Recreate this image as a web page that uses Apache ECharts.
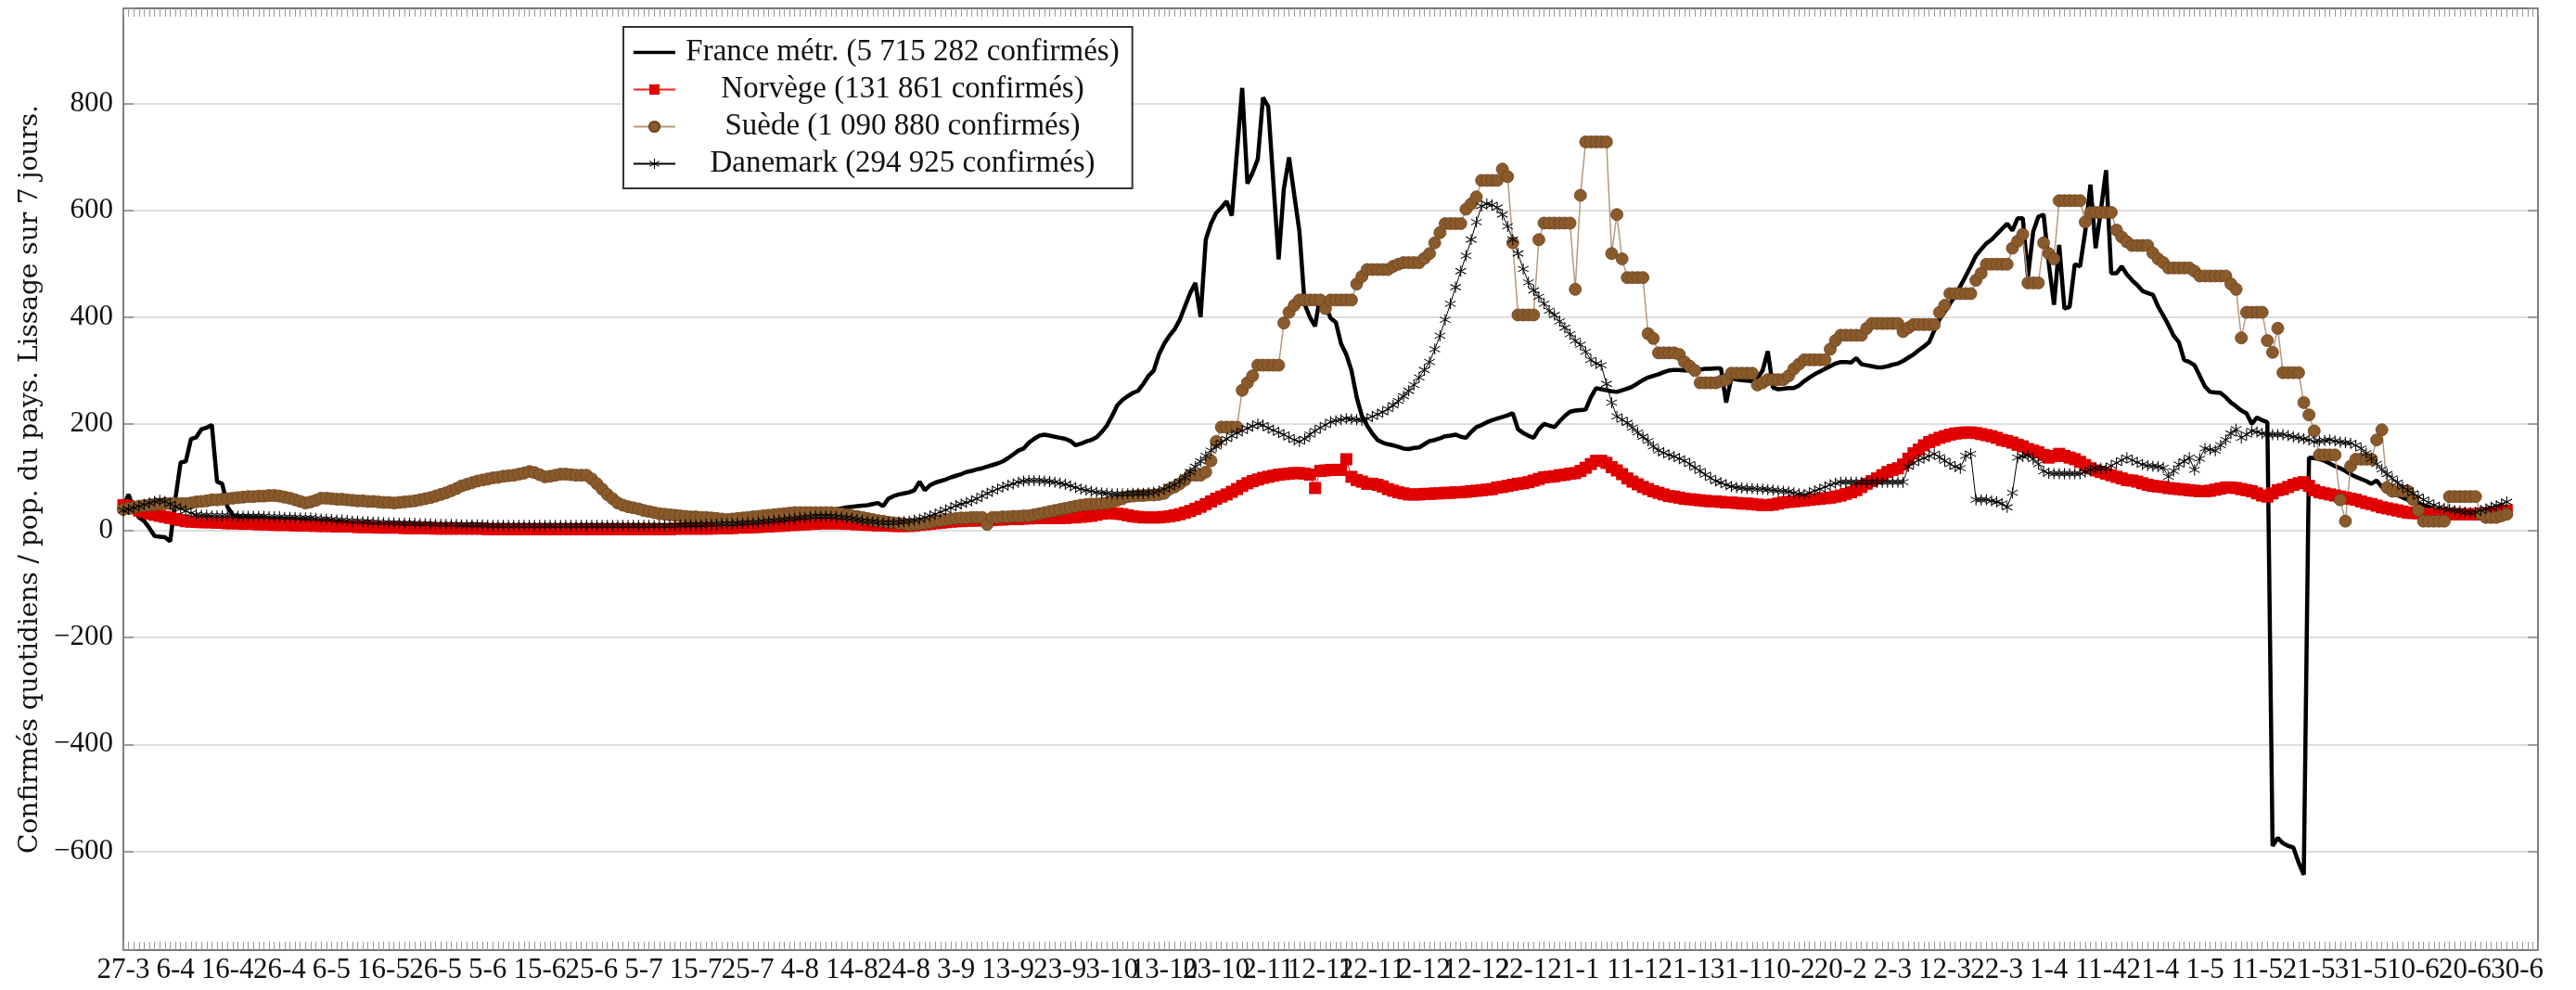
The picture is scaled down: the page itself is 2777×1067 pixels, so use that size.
<!DOCTYPE html>
<html>
<head>
<meta charset="utf-8">
<script src="https://cdn.jsdelivr.net/npm/echarts@6/dist/echarts.min.js"></script>
<style>
html,body{margin:0;padding:0;background:#fff;}
#chart{width:2777px;height:1067px;}
</style>
</head>
<body>
<div id="chart"></div>
<script>
// Axis: one category per day from 27-3-2020
const startDay = {y: 2020, m: 2, d: 27};
const nDays = 465;
const labelEvery = 10;

// Series values (per 100 000 inhabitants, 7-day smoothing), one value per day from 27-3-2020
const france = [
45,68,40,25,18,5,-10,-11,-12,-20,
60,128,130,172,175,190,193,198,92,88,
45,30,26,25,25,24,24,23,22,22,
21,21,20,20,19,19,18,18,17,17,
16,15,14,14,13,12,12,11,11,10,
10,10,9,9,9,8,8,8,8,13,
8,7,7,7,7,7,7,14,7,6,
6,6,6,6,6,6,6,6,6,6,
6,6,6,6,6,6,6,6,6,6,
6,6,6,6,7,7,7,7,7,7,
7,7,7,7,7,7,7,7,8,8,
8,8,9,9,10,10,11,11,12,13,
14,15,16,17,18,20,21,22,23,25,
26,28,30,32,34,36,38,40,42,44,
45,46,47,48,50,52,46,60,65,68,
70,72,76,92,76,85,90,93,96,100,
103,106,110,112,115,117,120,123,126,130,
136,143,150,154,165,172,178,180,178,176,
174,172,168,160,163,167,170,175,185,197,
215,235,245,252,258,262,275,290,300,330,
350,365,377,395,420,445,464,400,545,575,
595,605,617,590,710,829,650,670,696,811,
794,650,508,640,699,629,560,424,400,383,
441,420,398,390,350,330,300,250,215,197,
182,170,165,162,160,157,154,153,155,156,
162,168,170,173,177,178,180,176,174,185,
194,198,203,207,210,213,216,220,190,183,
178,174,190,200,197,194,205,215,223,225,
226,227,250,267,265,263,261,260,263,266,
270,276,282,287,290,293,297,300,301,301,
300,300,301,302,303,303,304,304,240,286,
283,282,281,280,285,300,336,268,265,266,
267,267,272,280,287,293,298,303,308,313,
316,316,315,323,312,310,308,306,306,308,
311,313,318,324,330,338,345,353,375,396,
410,425,440,458,476,495,515,527,538,545,
555,565,575,562,585,585,476,560,588,592,
500,423,535,416,419,499,495,560,648,529,
600,675,482,482,495,480,469,460,449,445,
442,420,403,385,365,353,320,316,310,290,
270,260,259,258,250,240,233,225,220,200,
212,207,203,-590,-575,-585,-590,-593,-621,-644,
137,136,134,131,126,121,117,112,106,101,
97,93,88,94,82,76,72,67,62,58,
54,51,48,45,41,38,35,32,28,26,
25,24,23,24,25,28,31,35,38
];

const norvege = [
48,46,42,38,35,32,30,28,26,24,
22,20,18,17,17,16,16,16,15,15,
14,14,14,13,13,13,12,12,12,11,
11,11,11,10,10,10,10,9,9,9,
9,8,8,8,8,7,7,7,7,6,
6,6,6,6,5,5,5,5,5,5,
4,4,4,4,4,4,4,4,4,4,
3,3,3,3,3,3,3,3,3,3,
3,3,3,3,3,3,3,3,3,3,
3,3,3,3,3,3,3,3,3,3,
3,3,3,3,3,3,4,4,4,4,
4,4,4,4,5,5,5,5,6,6,
6,7,7,8,8,9,9,10,11,11,
12,12,13,13,14,14,14,14,14,13,
13,12,12,11,11,10,10,10,9,9,
9,9,10,11,12,13,14,15,16,17,
18,18,19,19,19,20,20,20,21,21,
22,22,22,23,23,24,24,24,24,24,
24,24,25,25,26,27,28,30,32,33,
33,32,31,29,27,26,25,25,25,25,
26,27,29,31,34,37,41,45,50,55,
60,64,68,73,78,84,89,93,96,99,
101,103,105,106,107,108,108,107,105,80,
112,113,114,114,114,134,101,95,92,88,
88,86,83,78,75,72,70,68,68,68,
69,69,70,70,71,71,72,72,73,74,
75,76,77,78,81,82,84,86,88,89,
91,94,97,100,101,102,104,105,107,108,
112,118,125,131,131,127,119,113,106,98,
92,87,82,78,74,71,68,65,64,62,
60,59,58,57,56,55,55,54,53,53,
52,51,51,50,49,48,48,49,51,53,
54,55,56,57,58,59,60,61,62,64,
66,69,72,76,82,88,93,98,104,110,
114,117,124,135,145,152,160,166,170,174,
177,180,182,183,184,184,183,181,179,177,
174,170,168,165,161,158,153,150,147,142,
137,140,144,140,137,134,129,123,117,113,
110,107,104,101,98,95,94,92,89,86,
84,83,82,80,79,78,77,76,75,74,
74,75,77,79,81,81,80,78,76,74,
70,66,64,70,76,78,82,86,89,91,
84,76,72,70,68,66,64,62,60,58,
55,52,50,47,44,42,40,38,36,34,
33,33,32,32,32,32,32,31,31,31,
31,31,31,32,33,34,35,37,38
];

const suede = [
40,42,44,46,47,48,49,50,51,51,
51,51,51,52,54,55,56,58,58,59,
60,61,62,63,64,64,65,65,66,66,
65,63,61,58,55,52,54,57,61,61,
60,59,59,58,57,56,56,55,55,54,
53,53,52,53,54,55,56,58,60,62,
65,68,71,75,79,84,87,90,93,95,
97,99,100,102,103,104,106,108,111,109,
105,101,102,104,106,106,105,104,104,104,
97,88,78,68,60,52,48,45,43,41,
38,36,34,32,31,30,29,28,27,26,
26,25,25,24,23,22,21,22,23,24,
25,26,27,28,29,30,31,32,33,34,
34,34,34,34,34,34,34,33,32,30,
28,27,25,23,21,19,18,16,15,14,
13,11,12,13,14,16,18,19,21,22,
23,24,24,25,25,25,12,25,25,26,
26,27,27,28,28,30,32,34,36,38,
40,42,44,46,48,49,50,50,51,52,
54,57,60,64,65,66,66,67,67,68,
70,78,82,88,95,104,104,104,110,131,
167,194,194,194,194,263,277,290,310,310,
310,310,310,389,409,422,432,432,432,432,
432,416,432,432,432,432,432,462,476,489,
489,489,489,489,495,499,502,502,502,502,
510,519,539,558,575,575,575,575,602,612,
625,656,656,656,656,677,663,539,404,404,
404,404,545,576,576,576,576,576,576,452,
628,728,728,728,728,728,519,592,509,474,
474,474,474,369,360,333,333,333,333,330,
316,308,300,277,277,277,277,280,283,295,
295,295,295,295,273,277,283,283,283,283,
290,303,312,320,320,320,320,320,340,356,
366,366,366,366,366,379,388,388,388,388,
388,388,373,380,386,386,386,386,386,409,
422,444,444,444,444,444,469,482,499,499,
499,499,499,529,542,555,464,464,464,539,
519,509,618,618,618,618,618,578,596,596,
596,596,596,563,550,541,534,534,534,534,
520,509,502,492,492,492,492,492,486,477,
477,477,477,477,477,462,452,361,409,409,
409,409,356,334,379,296,296,296,296,240,
217,187,142,142,142,142,58,18,121,134,
134,134,134,170,189,81,74,74,74,74,
58,38,18,18,18,18,18,64,64,64,
64,64,64,31,25,25,25,28,31
];

const danemark = [
38,40,43,46,49,52,55,57,55,50,
45,41,37,33,30,29,29,28,28,28,
28,28,27,27,27,27,27,27,26,26,
26,25,25,25,24,24,24,23,22,22,
21,20,20,19,18,18,17,17,16,16,
15,15,15,14,14,14,14,13,13,13,
12,12,12,12,12,11,11,11,11,11,
10,10,10,10,10,10,10,10,10,10,
10,10,10,10,10,10,10,10,10,10,
10,10,10,10,10,10,10,10,10,10,
10,10,10,10,10,10,10,11,11,11,
11,11,12,12,12,13,13,13,14,14,
15,15,16,17,18,19,20,21,22,23,
24,25,26,27,27,27,27,26,25,24,
23,21,19,18,17,16,15,15,15,16,
17,18,20,22,25,28,31,35,39,43,
47,50,53,56,60,65,70,74,78,82,
85,88,91,93,94,94,94,93,92,91,
89,87,84,81,78,76,74,72,71,70,
69,69,69,69,70,70,70,71,72,74,
78,82,86,92,100,110,120,130,140,150,
158,165,172,178,183,187,192,196,200,198,
192,188,184,180,175,170,167,172,180,187,
193,198,204,206,208,210,209,208,207,210,
214,218,222,228,235,243,252,262,273,287,
301,316,340,365,395,425,456,486,515,545,
578,608,612,610,605,592,570,545,519,490,
465,450,438,425,412,404,392,380,368,356,
348,335,320,313,310,275,240,214,208,202,
193,184,176,168,158,150,146,142,139,135,
131,125,118,112,105,99,93,90,86,83,
81,80,79,79,78,78,77,76,75,74,
73,71,69,68,71,75,78,82,86,89,
91,91,91,91,91,91,91,91,91,91,
91,91,91,120,127,132,136,140,144,138,
131,125,120,117,140,144,58,58,58,56,
54,51,44,71,137,139,141,134,125,111,
108,107,107,107,107,107,107,110,114,117,
117,117,122,127,132,137,132,128,124,122,
121,120,118,101,112,124,130,137,114,135,
154,152,150,160,170,182,190,174,180,187,
185,182,180,180,180,180,178,176,174,172,
170,167,168,169,170,168,166,165,164,160,
154,145,135,125,115,106,98,90,82,76,
70,64,58,53,48,44,42,40,38,37,
35,34,35,38,41,44,47,50,54
];

const seriesNames = [
  'France métr. (5 715 282 confirmés)',
  'Norvège (131 861 confirmés)',
  'Suède (1 090 880 confirmés)',
  'Danemark (294 925 confirmés)'
];
const yAxisTitle = 'Confirmés quotidiens / pop. du pays. Lissage sur 7 jours.';

// Build day categories
const days = [];
for (let i = 0; i < nDays; i++) {
  const dt = new Date(Date.UTC(startDay.y, startDay.m, startDay.d + i));
  days.push(dt.getUTCDate() + '-' + (dt.getUTCMonth() + 1));
}

const SERIF = "'Liberation Serif', 'Times New Roman', serif";
const starPath = 'path://M9.2,0 L10.8,0 L10.8,20 L9.2,20 Z M0.94,5.69 L1.74,4.31 L19.06,14.31 L18.26,15.69 Z M0.94,14.31 L1.74,15.69 L19.06,5.69 L18.26,4.31 Z';
// thick line icon for the France legend entry (bbox padded to the icon box)
const thickLineIcon = 'path://M0,0 L0.01,0 L0,0.01 Z M0,5.3 L45,5.3 L45,8.7 L0,8.7 Z M44.99,14 L45,14 L45,13.99 Z';

const frameColor = '#555';
const yFmt = v => (Math.abs(v % 200) < 1e-6 ? (v < 0 ? '\u2212' + (-v) : String(v)) : '');
const xFmt = (v, i) => (i % labelEvery === 0 ? v : '');

const chart = echarts.init(document.getElementById('chart'), null, {renderer: 'canvas'});
chart.setOption({
  animation: false,
  backgroundColor: '#fff',
  grid: {left: 133, right: 41, top: 9, bottom: 43},
  legend: {
    orient: 'vertical',
    left: 672, top: 29,
    padding: [11, 14, 10, 10],
    itemGap: 7,
    itemWidth: 45,
    itemHeight: 14,
    backgroundColor: '#fff',
    borderColor: '#333',
    borderWidth: 2,
    data: [
      {name: seriesNames[0], icon: thickLineIcon},
      seriesNames[1], seriesNames[2], seriesNames[3]
    ],
    formatter: n => '{a|' + n + '}',
    textStyle: {
      color: '#111',
      rich: {a: {width: 480, align: 'center', fontSize: 33, fontFamily: SERIF, color: '#111'}}
    }
  },
  xAxis: [{
    type: 'category', data: days, boundaryGap: false, position: 'bottom',
    axisLine: {show: true, onZero: false, lineStyle: {color: frameColor, width: 1.5}},
    axisTick: {show: true, inside: true, interval: 0, length: 9, lineStyle: {color: '#999', width: 1}},
    axisLabel: {interval: 0, formatter: xFmt, fontFamily: SERIF, fontSize: 31, color: '#111', margin: 6,
                hideOverlap: false},
    splitLine: {show: false}
  }, {
    type: 'category', data: days, boundaryGap: false, position: 'top',
    axisLine: {show: true, onZero: false, lineStyle: {color: frameColor, width: 1.5}},
    axisTick: {show: true, inside: true, interval: 0, length: 9, lineStyle: {color: '#999', width: 1}},
    axisLabel: {show: false},
    splitLine: {show: false}
  }],
  yAxis: [{
    type: 'value', min: -785, max: 978, splitNumber: 9, minInterval: 200, maxInterval: 200,
    position: 'left',
    name: yAxisTitle, nameLocation: 'middle', nameGap: 86, nameRotate: 90,
    nameTextStyle: {fontFamily: "'DejaVu Serif', serif", fontSize: 28, color: '#111'},
    axisLine: {show: true, onZero: false, lineStyle: {color: frameColor, width: 1.5}},
    axisTick: {show: true, inside: true, length: 11, lineStyle: {color: '#888', width: 1.5}},
    axisLabel: {formatter: yFmt, fontFamily: SERIF, fontSize: 31, color: '#111', margin: 11},
    splitLine: {show: true, lineStyle: {color: '#d2d2d2', width: 1.5}}
  }, {
    type: 'value', min: -785, max: 978, splitNumber: 9, minInterval: 200, maxInterval: 200,
    position: 'right',
    axisLine: {show: true, onZero: false, lineStyle: {color: frameColor, width: 1.5}},
    axisTick: {show: true, inside: true, length: 11, lineStyle: {color: '#888', width: 1.5}},
    axisLabel: {show: false},
    splitLine: {show: false}
  }],
  series: [{
    name: seriesNames[0], type: 'line', data: france,
    symbol: 'none', showSymbol: false,
    lineStyle: {color: '#000', width: 4.5}, itemStyle: {color: '#000'},
    emphasis: {disabled: true}
  }, {
    name: seriesNames[1], type: 'line', data: norvege,
    symbol: 'rect', symbolSize: 13, showAllSymbol: true,
    lineStyle: {color: '#ff1a1a', width: 1}, itemStyle: {color: '#e00000'},
    emphasis: {disabled: true}
  }, {
    name: seriesNames[2], type: 'line', data: suede,
    symbol: 'circle', symbolSize: 13, showAllSymbol: true,
    lineStyle: {color: '#b49a7c', width: 1.5},
    itemStyle: {color: '#8b5a2b', borderColor: '#6a4220', borderWidth: 0.8},
    emphasis: {disabled: true}
  }, {
    name: seriesNames[3], type: 'line', data: danemark,
    symbol: starPath, symbolSize: 12, showAllSymbol: true,
    lineStyle: {color: '#000', width: 1}, itemStyle: {color: '#000'},
    emphasis: {disabled: true}
  }]
});
</script>
</body>
</html>
